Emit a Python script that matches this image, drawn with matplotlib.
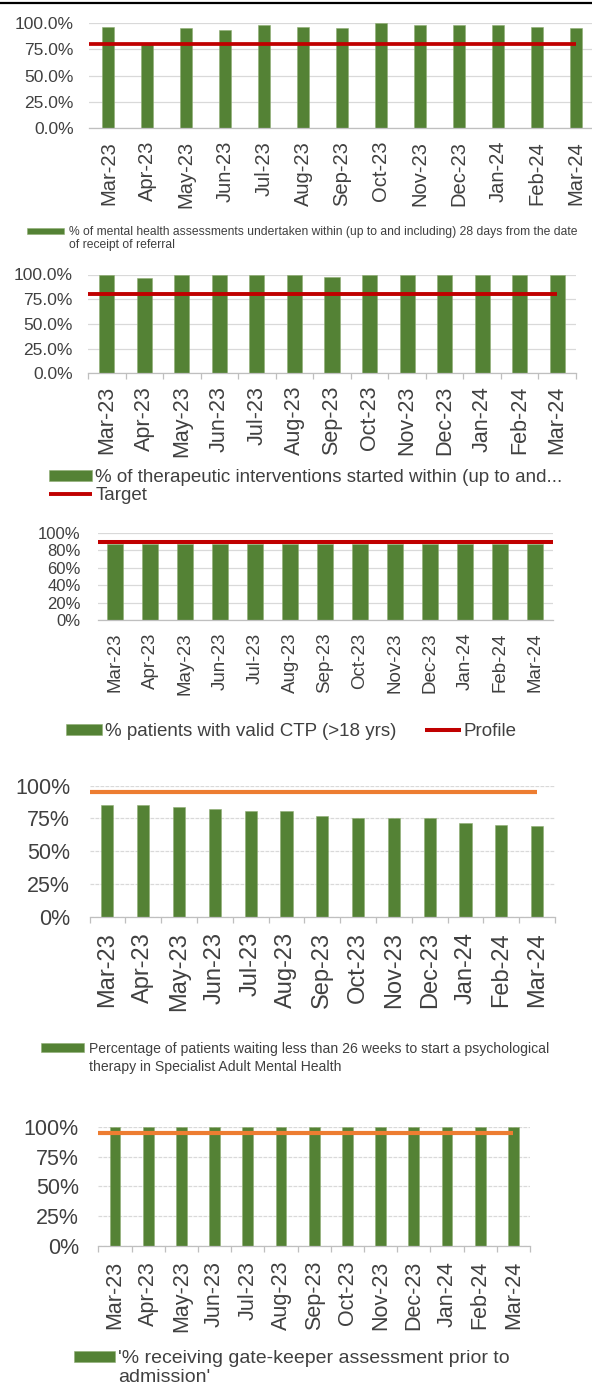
import numpy as np
import matplotlib
matplotlib.use('Agg')
import matplotlib.pyplot as plt
from matplotlib.lines import Line2D
from matplotlib.ticker import FuncFormatter

plt.rcParams['font.family'] = ['Liberation Sans', 'DejaVu Sans']

# ---- data ----
months = ['Mar-23', 'Apr-23', 'May-23', 'Jun-23', 'Jul-23', 'Aug-23', 'Sep-23',
          'Oct-23', 'Nov-23', 'Dec-23', 'Jan-24', 'Feb-24', 'Mar-24']

assess_28d = [96.2, 81.0, 94.6, 93.1, 97.8, 96.2, 94.6, 100.0, 97.8, 97.8, 97.8, 96.2, 94.6]
assess_target = 80

therapy_started = [100, 96.3, 99.3, 100, 100, 100, 97.7, 100, 100, 100, 100, 100, 99.3]
therapy_target = 80

ctp_valid = [87, 87, 87, 87, 87, 87, 87, 87, 87, 87, 87, 87, 87]
ctp_profile = 89

psych_26wk = [85.2, 85.2, 83.7, 82.4, 80.9, 80.9, 77.1, 75.6, 75.6, 75.6, 71.8, 70.2, 69.0]
psych_target = 95

gatekeeper = [100, 100, 100, 100, 100, 100, 100, 100, 100, 100, 100, 100, 100]
gatekeeper_target = 95

GREEN = '#548235'
RED = '#C00000'
ORANGE = '#ED7D31'
TEXT = '#404040'

W, H = 592, 1389
fig = plt.figure(figsize=(W / 100, H / 100), dpi=100)


def px_axes(left, right, top, bottom):
    # axes placed by pixel edges (top = 100% line, bottom = 0% line)
    return fig.add_axes([left / W, 1 - bottom / H, (right - left) / W, (bottom - top) / H])


def draw_panel(ax, values, label, target, tcolor, tlabel, line_to_edge, width,
               ystep, ydec, ysize, xsize, ypad, xpad, tlw, bound_ticks, dashed_grid):
    x = np.arange(len(months))
    ax.bar(x, values, width=width, color=GREEN, edgecolor='#8FAE74', linewidth=0.4,
           zorder=2, label=label)
    x_end = x[-1] + 0.5 if line_to_edge else x[-1]
    ax.plot([x[0] - 0.5, x_end], [target, target], color=tcolor, lw=tlw,
            solid_capstyle='butt', zorder=3, label=tlabel)
    ax.set_xlim(-0.5, len(months) - 0.5)
    ax.set_ylim(0, 100)
    ax.set_yticks(np.arange(0, 100 + ystep / 2, ystep))
    ax.yaxis.set_major_formatter(FuncFormatter(lambda v, p: f'{v:.{ydec}f}%'))
    ax.yaxis.grid(True, color='#D9D9D9', lw=0.9,
                  linestyle=(0, (3, 1)) if dashed_grid else '-')
    ax.set_axisbelow(True)
    for s in ['top', 'right', 'left']:
        ax.spines[s].set_visible(False)
    ax.spines['bottom'].set_color('#BFBFBF')
    ax.spines['bottom'].set_linewidth(0.9)
    ax.set_xticks(x)
    ax.set_xticklabels(months, rotation=90)
    ax.tick_params(axis='y', length=0, pad=ypad, labelsize=ysize, labelcolor=TEXT)
    ax.tick_params(axis='x', which='major', length=0, pad=xpad, labelsize=xsize,
                   labelcolor=TEXT)
    if bound_ticks:
        ax.set_xticks(np.arange(-0.5, len(months), 1), minor=True)
        ax.tick_params(axis='x', which='minor', length=4, color='#BFBFBF', width=0.9)


legends = []  # (legend, continuation line, pitch px, fontsize)


def place_legend(ax, handles, labels, x, y, more=None, pitch=0, **kw):
    leg = ax.legend(handles, labels, loc='upper left', bbox_to_anchor=(x / W, 1 - y / H),
                    bbox_transform=fig.transFigure, frameon=False, borderpad=0,
                    borderaxespad=0, labelcolor=TEXT, **kw)
    if more:
        legends.append((leg, more, pitch, kw.get('fontsize')))
    return leg


# panel 1: assessments within 28 days
ax1 = px_axes(89, 595, 22.7, 128.3)
draw_panel(ax1, assess_28d, 'a', assess_target, RED, None, False, 0.31,
           25, 1, 12.5, 14.5, 11, 9, 2.7, False, False)
h, l = ax1.get_legend_handles_labels()
place_legend(ax1, [h[-1]],
             ['% of mental health assessments undertaken within (up to and including) 28 days from the date'],
             27, 226, more='of receipt of referral', pitch=13,
             fontsize=8.7, handlelength=3.1, handleheight=0.4, handletextpad=0.4)

# panel 2: therapeutic interventions
ax2 = px_axes(88, 576, 274.5, 373.3)
draw_panel(ax2, therapy_started, 'b', therapy_target, RED, 'Target', False, 0.4,
           25, 1, 12.5, 15.5, 11, 9, 2.8, True, False)
h, l = ax2.get_legend_handles_labels()
place_legend(ax2, [h[1], h[0]],
             ['% of therapeutic interventions started within (up to and...', 'Target'],
             49, 469, fontsize=13.5, handlelength=2.3, handleheight=0.53,
             handletextpad=0.16, labelspacing=0.05)

# panel 3: valid CTP
ax3 = px_axes(97.5, 552.5, 532.7, 620)
draw_panel(ax3, ctp_valid, 'c', ctp_profile, RED, 'Profile', True, 0.48,
           20, 0, 12, 13.5, 12, 9, 2.9, False, False)
h, l = ax3.get_legend_handles_labels()
place_legend(ax3, [h[1], h[0]], ['% patients with valid CTP (>18 yrs)', 'Profile'],
             66, 723, fontsize=13.5, ncol=2, handlelength=1.92, handleheight=0.5,
             handletextpad=0.16, columnspacing=1.5)

# panel 4: psychological therapy waits
ax4 = px_axes(89.5, 555, 785.7, 916.7)
draw_panel(ax4, psych_26wk, 'd', psych_target, ORANGE, None, False, 0.34,
           25, 0, 15.5, 17, 14, 11, 3.0, True, True)
h, l = ax4.get_legend_handles_labels()
place_legend(ax4, [h[-1]],
             ['Percentage of patients waiting less than 26 weeks to start a psychological'],
             41, 1041.5, more='therapy in Specialist Adult Mental Health', pitch=18,
             fontsize=10.1, handlelength=3.1, handleheight=0.6, handletextpad=0.35)

# panel 5: gate-keeper assessment
ax5 = px_axes(98.4, 530, 1127, 1245.5)
draw_panel(ax5, gatekeeper, 'e', gatekeeper_target, ORANGE, None, False, 0.33,
           25, 0, 15.5, 15.5, 14, 11, 3.0, True, True)
h, l = ax5.get_legend_handles_labels()
place_legend(ax5, [h[-1]], ["'% receiving gate-keeper assessment prior to"],
             74, 1350, more="admission'", pitch=19.5,
             fontsize=14, handlelength=2.1, handleheight=0.5, handletextpad=0.15)

# continuation lines of the long legend labels, under the first line
fig.canvas.draw()
for leg, more, pitch, fs in legends:
    bb = leg.get_texts()[0].get_window_extent()
    cy = (bb.y0 + bb.y1) / 2 - pitch
    fig.text(bb.x0 / W, cy / H, more, fontsize=fs, color=TEXT, ha='left', va='center')

# black rule along the top edge
fig.add_artist(Line2D([0, 1], [1 - 2.5 / H, 1 - 2.5 / H], transform=fig.transFigure,
                      color='black', lw=1.6))

fig.savefig('out.png', dpi=100, facecolor='white')
